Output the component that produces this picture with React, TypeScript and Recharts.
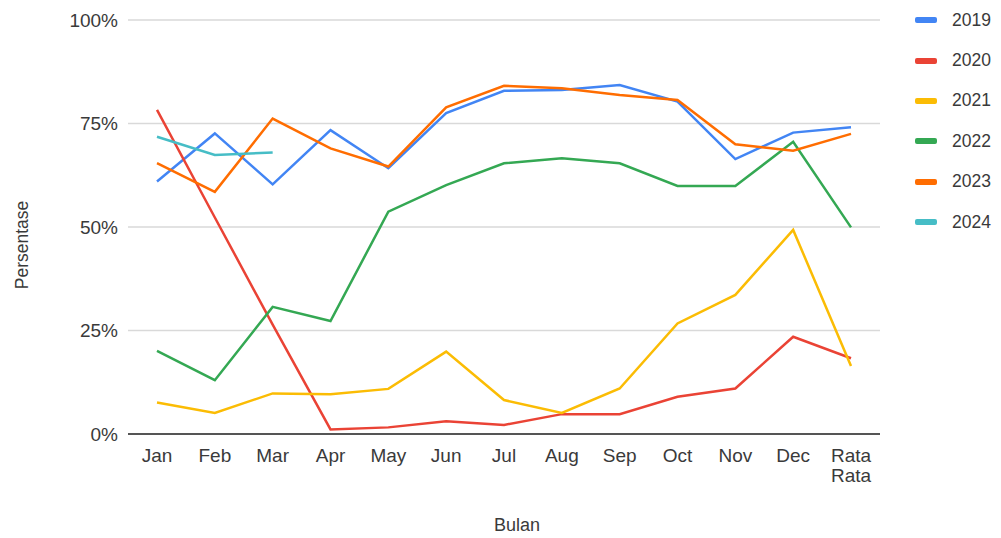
import React from 'react';
import { LineChart, Line, XAxis, YAxis, CartesianGrid, Legend, Label } from 'recharts';

const months = ['Jan', 'Feb', 'Mar', 'Apr', 'May', 'Jun', 'Jul', 'Aug', 'Sep', 'Oct', 'Nov', 'Dec', 'Rata Rata'];

const y2019 = [61.0, 72.6, 60.3, 73.4, 64.2, 77.5, 82.9, 83.1, 84.3, 80.3, 66.4, 72.8, 74.1];
const y2020 = [78.3, 52.3, 26.4, 1.1, 1.6, 3.1, 2.2, 4.8, 4.8, 9.0, 11.0, 23.5, 18.3];
const y2021 = [7.6, 5.1, 9.8, 9.6, 10.9, 19.9, 8.2, 5.1, 11.0, 26.7, 33.6, 49.3, 16.4];
const y2022 = [20.1, 13.0, 30.7, 27.3, 53.7, 60.1, 65.4, 66.6, 65.4, 59.9, 59.9, 70.6, 49.9];
const y2023 = [65.4, 58.5, 76.2, 69.0, 64.6, 78.9, 84.1, 83.5, 81.9, 80.7, 70.0, 68.4, 72.5];
const y2024: (number | null)[] = [71.8, 67.4, 68.0, null, null, null, null, null, null, null, null, null, null];

const yTicks = [0, 25, 50, 75, 100];

const series = [
    { key: '2019', values: y2019, color: '#4285F4' },
    { key: '2020', values: y2020, color: '#EA4335' },
    { key: '2021', values: y2021, color: '#FBBC04' },
    { key: '2022', values: y2022, color: '#34A853' },
    { key: '2023', values: y2023, color: '#FF6D01' },
    { key: '2024', values: y2024, color: '#46BDC6' },
];

const data = months.map((m, i) => {
    const row: { [k: string]: string | number | null } = { month: m };
    series.forEach(s => {
        row[s.key] = s.values[i];
    });
    return row;
});

const FONT = 'Arial, "Liberation Sans", Helvetica, sans-serif';
const TEXT = '#3a3a3a';

const MonthTick = (props: any) => {
    const { x, y, payload } = props;
    const parts = String(payload.value).split(' ');
    return (
        <text x={x} y={y} textAnchor="middle" fill={TEXT} fontSize={19} fontFamily={FONT}>
            {parts.map((p, i) => (
                <tspan key={i} x={x} dy={i === 0 ? 28 : 20}>{p}</tspan>
            ))}
        </text>
    );
};

const LegendList = (props: any) => {
    const { payload } = props;
    return (
        <div style={{ fontFamily: FONT, fontSize: 17.5, color: TEXT }}>
            {payload.map((item: any) => (
                <div key={item.value} style={{ display: 'flex', alignItems: 'center', height: 40.4 }}>
                    <span style={{ display: 'inline-block', width: 22, height: 6, borderRadius: 2, background: item.color, marginRight: 15 }} />
                    <span>{item.value}</span>
                </div>
            ))}
        </div>
    );
};

export default function App() {
    return (
        <div style={{ position: 'absolute', left: 0, top: 0, width: 1001, height: 538, background: '#fff' }}>
            <LineChart
                width={1001}
                height={538}
                data={data}
                margin={{ top: 20, right: 35, left: 0, bottom: 0 }}
            >
                <CartesianGrid vertical={false} stroke="#d9d9d9" strokeWidth={1.5} />
                <XAxis
                    dataKey="month"
                    interval={0}
                    height={104}
                    padding={{ left: 29, right: 29 }}
                    tickLine={false}
                    tickSize={0}
                    tickMargin={0}
                    axisLine={{ stroke: '#555', strokeWidth: 2 }}
                    tick={<MonthTick />}
                >
                    <Label
                        content={() => (
                            <text x={517} y={531} textAnchor="middle" fill={TEXT} fontSize={18} fontFamily={FONT}>Bulan</text>
                        )}
                    />
                </XAxis>
                <YAxis
                    domain={[0, 100]}
                    ticks={yTicks}
                    width={128}
                    tickFormatter={(v: number) => `${v}%`}
                    tickLine={false}
                    tickSize={0}
                    tickMargin={10}
                    axisLine={false}
                    tick={{ fill: TEXT, fontSize: 19, fontFamily: FONT }}
                >
                    <Label
                        content={() => (
                            <text x={28} y={245} transform="rotate(-90 28 245)" textAnchor="middle" fill={TEXT} fontSize={17.5} fontFamily={FONT}>Persentase</text>
                        )}
                    />
                </YAxis>
                <Legend
                    layout="vertical"
                    align="right"
                    verticalAlign="top"
                    content={<LegendList />}
                    wrapperStyle={{ left: 915, top: 0, width: 86 }}
                />
                {series.map(s => (
                    <Line
                        key={s.key}
                        dataKey={s.key}
                        name={s.key}
                        stroke={s.color}
                        strokeWidth={2.5}
                        dot={false}
                        activeDot={false}
                        type="linear"
                        isAnimationActive={false}
                    />
                ))}
            </LineChart>
        </div>
    );
}
